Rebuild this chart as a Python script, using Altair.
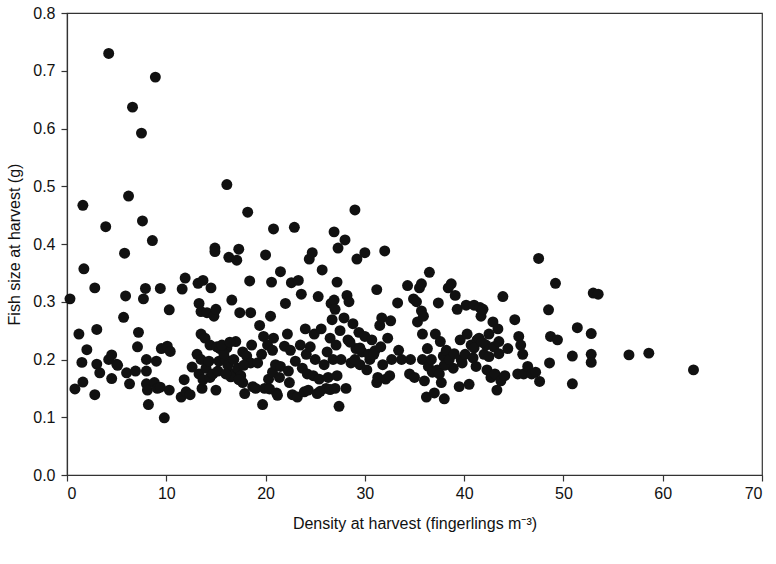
import altair as alt
import pandas as pd

density = [
    0.3, 0.8, 1.2, 1.5, 1.6, 1.6, 1.7, 2.0, 2.8, 2.8, 3.0, 3.0, 3.3, 3.9, 4.2, 4.2, 4.5, 4.5, 5.0, 5.1,
    5.7, 5.8, 5.9, 6.0, 6.2, 6.3, 6.6, 6.9, 7.1, 7.2, 7.5, 7.6, 7.7, 7.9, 8.0, 8.0, 8.0, 8.1, 8.2, 8.6,
    8.8, 8.9, 9.0, 9.1, 9.4, 9.4, 9.5, 9.8, 10.1, 10.3, 10.4, 10.3,
    11.5, 11.6, 11.8, 11.9, 12.0, 12.4, 12.6, 13.1, 13.2, 13.3, 13.3, 13.5, 13.5, 13.5, 13.6, 13.7, 13.7, 13.9,
    14.0, 14.1, 14.3, 14.4, 14.4, 14.5, 14.7, 14.8, 14.9, 14.9, 15.0, 15.0, 15.1, 15.2, 15.3, 15.4, 16.0, 16.1,
    16.1, 16.3, 16.6, 16.7, 17.0, 17.1, 17.2, 17.3, 17.4, 17.5, 17.7, 17.7, 17.9, 18.1, 18.2, 18.4, 18.5, 18.5,
    18.6, 18.7, 19.0, 19.2, 19.4, 19.6, 19.7, 19.8, 19.9,
    15.8, 16.2, 16.5, 16.8, 17.3, 16.0, 17.8, 15.6, 16.4,
    20.0, 20.2, 20.3, 20.4, 20.5, 20.6, 20.7, 20.7, 20.8, 20.8, 21.0, 21.1, 21.2, 21.4, 21.5, 21.5, 21.9, 22.0,
    22.2, 22.3, 22.4, 22.5, 22.6, 22.7, 22.9, 23.0, 23.2, 23.3, 23.5, 23.6, 23.7, 23.9, 24.0, 24.1, 24.2, 24.3,
    24.4, 24.5, 24.7, 24.8, 24.9, 25.0, 25.2, 25.3, 25.4, 25.6, 25.7, 25.9, 26.1, 26.2, 26.3, 26.5, 26.6, 26.7,
    26.8, 26.9, 26.9, 27.0, 27.1, 27.2, 27.2, 27.3, 27.4, 27.5, 27.6, 27.9, 28.0, 28.1, 28.2, 28.3, 28.4, 28.6,
    28.8, 29.0, 29.1, 29.2, 29.4, 29.5, 29.7, 30.0,
    25.5, 26.5, 27.0, 28.5, 29.5, 30.5, 29.0, 31.0, 30.0,
    30.2, 30.4, 30.7, 30.9, 31.2, 31.2, 31.3, 31.5, 31.6, 31.7, 31.8, 32.0, 32.1, 32.3, 32.5, 32.6, 32.7, 33.3,
    33.4, 33.7, 34.3, 34.5, 34.6, 34.9, 35.0, 35.2, 35.3, 35.5, 35.7, 35.7, 35.8, 35.8, 35.9, 36.0, 36.2, 36.3,
    36.4, 36.5, 36.7, 36.8, 37.0, 37.1, 37.3, 37.4, 37.6, 37.7, 37.9, 38.0, 38.2, 38.4, 38.7, 38.9, 39.1, 39.3,
    39.5, 39.6, 39.7, 39.8,
    38.0, 38.5, 37.5, 39.0,
    40.1, 40.2, 40.3, 40.5, 40.7, 40.9, 41.0, 41.2, 41.3, 41.5, 41.6, 41.7, 41.9, 42.0, 42.2, 42.3, 42.5, 42.7,
    42.9, 43.0, 43.1, 43.3, 43.4, 43.5, 43.7, 43.9, 44.1, 44.4, 45.1, 45.4, 45.5, 45.7, 45.9, 46.0, 46.4, 46.8,
    47.2, 47.5, 47.6, 48.5, 48.6, 48.7, 49.2, 49.4,
    41.0, 42.5, 43.5, 41.8,
    50.9, 50.9, 51.4, 52.8, 52.8, 52.8, 53.0, 53.5, 56.6, 58.6, 63.1,
]

fish_size = [
    0.305, 0.149, 0.244, 0.195, 0.161, 0.467, 0.357, 0.217, 0.324, 0.139, 0.252, 0.192, 0.177, 0.430, 0.730, 0.200, 0.208, 0.167, 0.192, 0.190,
    0.273, 0.384, 0.310, 0.177, 0.483, 0.158, 0.637, 0.180, 0.222, 0.247, 0.592, 0.440, 0.305, 0.323, 0.180, 0.200, 0.158, 0.147, 0.122, 0.406,
    0.160, 0.689, 0.197, 0.150, 0.323, 0.152, 0.219, 0.099, 0.223, 0.286, 0.214, 0.147,
    0.135, 0.322, 0.165, 0.341, 0.144, 0.139, 0.187, 0.209, 0.332, 0.297, 0.175, 0.283, 0.200, 0.244, 0.150, 0.337, 0.165, 0.237,
    0.185, 0.281, 0.197, 0.169, 0.225, 0.324, 0.175, 0.275, 0.393, 0.387, 0.287, 0.147, 0.222, 0.180, 0.197, 0.219, 0.200, 0.503,
    0.220, 0.377, 0.303, 0.175, 0.231, 0.372, 0.185, 0.391, 0.281, 0.172, 0.160, 0.213, 0.141, 0.206, 0.455, 0.336, 0.281, 0.194,
    0.225, 0.153, 0.150, 0.194, 0.259, 0.209, 0.122, 0.240, 0.150,
    0.210, 0.190, 0.170, 0.200, 0.165, 0.175, 0.190, 0.225, 0.230,
    0.381, 0.225, 0.166, 0.149, 0.275, 0.334, 0.216, 0.178, 0.426, 0.237, 0.191, 0.142, 0.138, 0.169, 0.352, 0.188, 0.223, 0.297,
    0.244, 0.180, 0.160, 0.216, 0.333, 0.139, 0.429, 0.197, 0.135, 0.337, 0.225, 0.313, 0.185, 0.144, 0.253, 0.209, 0.175, 0.147,
    0.374, 0.222, 0.385, 0.172, 0.244, 0.200, 0.141, 0.309, 0.166, 0.253, 0.355, 0.191, 0.150, 0.213, 0.169, 0.237, 0.297, 0.269,
    0.200, 0.421, 0.303, 0.287, 0.225, 0.172, 0.334, 0.393, 0.119, 0.250, 0.200, 0.272, 0.407, 0.150, 0.311, 0.234, 0.300, 0.194,
    0.262, 0.459, 0.219, 0.374, 0.247, 0.191, 0.213, 0.385,
    0.145, 0.148, 0.150, 0.230, 0.220, 0.200, 0.200, 0.215, 0.240,
    0.182, 0.209, 0.234, 0.209, 0.160, 0.321, 0.169, 0.259, 0.222, 0.272, 0.191, 0.388, 0.166, 0.237, 0.172, 0.267, 0.200, 0.298,
    0.216, 0.200, 0.328, 0.175, 0.200, 0.305, 0.169, 0.300, 0.265, 0.324, 0.284, 0.331, 0.200, 0.244, 0.275, 0.163, 0.135, 0.219,
    0.188, 0.351, 0.200, 0.178, 0.142, 0.244, 0.182, 0.298, 0.231, 0.160, 0.206, 0.132, 0.216, 0.324, 0.331, 0.185, 0.311, 0.287,
    0.153, 0.234, 0.200, 0.194,
    0.190, 0.200, 0.175, 0.210,
    0.209, 0.294, 0.244, 0.157, 0.225, 0.203, 0.294, 0.188, 0.234, 0.237, 0.290, 0.275, 0.287, 0.209, 0.225, 0.182, 0.244, 0.169,
    0.265, 0.222, 0.175, 0.147, 0.253, 0.231, 0.163, 0.309, 0.172, 0.219, 0.269, 0.175, 0.240, 0.225, 0.209, 0.175, 0.188, 0.175,
    0.178, 0.375, 0.162, 0.286, 0.194, 0.240, 0.332, 0.234,
    0.220, 0.205, 0.210, 0.230,
    0.206, 0.158, 0.255, 0.245, 0.209, 0.195, 0.315, 0.313, 0.208, 0.211, 0.182,
]

df = pd.DataFrame({"density": density, "size": fish_size})

font = "Liberation Sans"

chart = alt.Chart(df).mark_circle(size=120, color="#111111", opacity=1).encode(
    x=alt.X("density:Q",
            scale=alt.Scale(domain=[0, 70], nice=False, zero=True),
            axis=alt.Axis(values=[0, 10, 20, 30, 40, 50, 60, 70], format="d",
                          title="Density at harvest (fingerlings m⁻³)",
                          grid=False, tickSize=6, labelPadding=4, titlePadding=14)),
    y=alt.Y("size:Q",
            scale=alt.Scale(domain=[0, 0.8], nice=False),
            axis=alt.Axis(values=[0, 0.1, 0.2, 0.3, 0.4, 0.5, 0.6, 0.7, 0.8], format=".1f",
                          title="Fish size at harvest (g)",
                          grid=False, tickSize=6, labelPadding=6, titlePadding=10)),
).properties(
    width=695, height=462,
    autosize=alt.AutoSizeParams(type="none"),
    padding={"left": 67, "top": 13, "right": 14, "bottom": 89},
    background="white",
).configure_view(
    stroke="#333333", strokeWidth=1.2
).configure_axis(
    domainColor="#333333", tickColor="#333333", domainWidth=1.2, tickWidth=1.2,
    labelFont=font, titleFont=font, labelFontSize=16, titleFontSize=16,
    labelColor="#111111", titleColor="#111111", titleFontWeight="normal",
)

chart.save("out.html", embed_options={"renderer": "svg", "actions": False})
